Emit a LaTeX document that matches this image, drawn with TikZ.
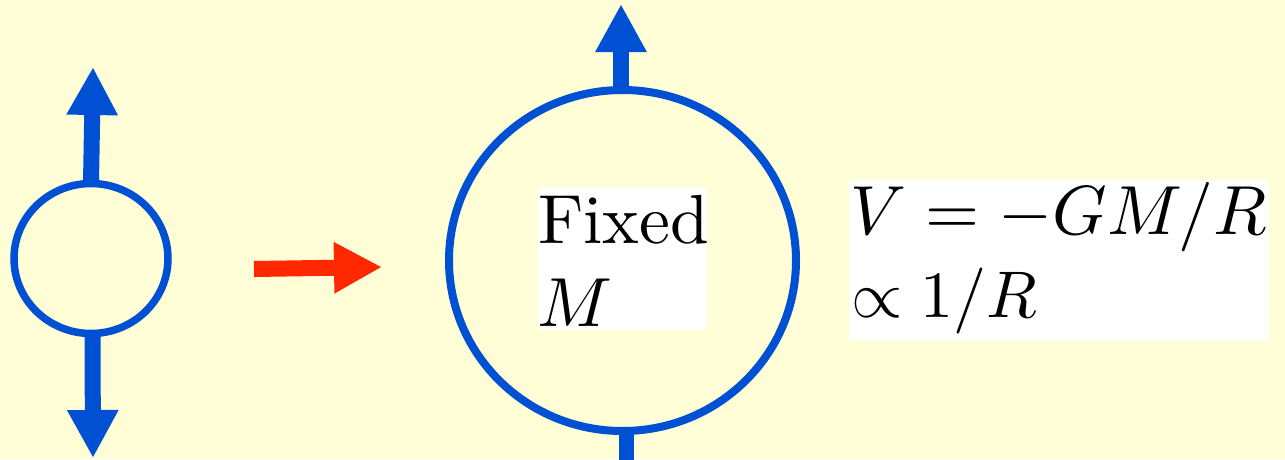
\documentclass[tikz,border=0pt]{standalone}
\usepackage{graphicx}
\usetikzlibrary{arrows.meta,shapes.geometric}
\definecolor{bgyellow}{RGB}{255,254,214}
\definecolor{ballblue}{RGB}{0,80,212}
\definecolor{pushred}{RGB}{255,40,0}
\begin{document}
\begin{tikzpicture}[x=1pt,y=-1pt,
  ball/.style={draw=ballblue,ellipse,inner sep=0pt,outer sep=0pt},
  fatarrow/.style={line width=16pt,line cap=butt,-{Triangle[length=48pt,width=48pt]}},
  bluearrow/.style={fatarrow,draw=ballblue,fill=ballblue},
  redarrow/.style={fatarrow,draw=pushred,fill=pushred},
  whitebox/.style={fill=white,draw=none,inner sep=0pt,outer sep=0pt,anchor=north west},
  txt/.style={inner sep=0pt,outer sep=0pt,anchor=base west,font=\fontsize{10}{12}\selectfont}]
\fill[bgyellow] (0,0) rectangle (1285,459);
\useasboundingbox (0,0) rectangle (1285,459);
% small sphere
\node[ball,line width=7.5pt,minimum width=154pt,minimum height=150pt] (small) at (91,258.5) {};
\coordinate (smalltop) at (93,67);
\coordinate (smallbot) at (93,458);
\draw[bluearrow] (small.north) -- (smalltop);
\draw[bluearrow] ([xshift=1.5pt]small.south) -- (smallbot);
% red arrow
\coordinate (redstart) at (254,269);
\coordinate (redtip) at (382,267);
\draw[redarrow] (redstart) -- (redtip);
% big sphere
\node[ball,line width=8pt,minimum width=347pt,minimum height=341pt] (big) at (622.5,260.5) {};
\coordinate (bigtop) at (621,4);
\coordinate (bigbot) at (626.5,475);
\draw[bluearrow] ([xshift=-1.5pt]big.north) -- (bigtop);
\draw[draw=ballblue,line width=15pt,line cap=butt] ([xshift=4pt]big.south) -- (bigbot);
% Fixed M label
\node[whitebox,minimum width=169pt,minimum height=142pt] (boxA) at (538,188) {};
\node[txt] (fixed) at (538,243) {\scalebox{6.95}{Fixed}};
\node[txt] (massM) at (537,326) {\scalebox{6.95}{$M$}};
% formula
\node[whitebox,minimum width=420pt,minimum height=160pt] (boxB) at (849,180) {};
\node[txt] (eqA) at (850,234) {\scalebox{6.95}{$V=-GM/R$}};
\node[txt] (eqB) at (851,317) {\scalebox{6.6}{$\propto 1/R$}};
\end{tikzpicture}
\end{document}
